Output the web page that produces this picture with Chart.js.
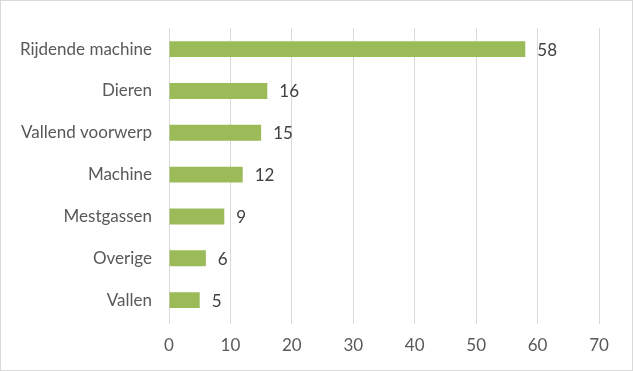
<!DOCTYPE html>
<html>
<head>
<meta charset="utf-8">
<script src="https://cdn.jsdelivr.net/npm/chart.js@4.4.0/dist/chart.umd.min.js"></script>
<style>
  html, body { margin: 0; padding: 0; background: #fff; }
  #wrap {
    position: absolute; left: 0; top: 0;
    width: 633px; height: 371px;
    box-sizing: border-box;
    border: 1px solid #d9d9d9;
  }
  #chart { display: block; }
</style>
</head>
<body>
<div id="wrap"><canvas id="chart" width="631" height="369"></canvas></div>
<script>
// Oorzaken - aantal
const categories = [
    "Rijdende machine",
    "Dieren",
    "Vallend voorwerp",
    "Machine",
    "Mestgassen",
    "Overige",
    "Vallen"
];
const values = [58, 16, 15, 12, 9, 6, 5];
const xTicks = [0, 10, 20, 30, 40, 50, 60, 70];

const FONT = "Lato, 'Open Sans', sans-serif";

// data labels rechts van de balken
const valueLabels = {
    id: "valueLabels",
    afterDatasetsDraw(chart) {
        const ctx = chart.ctx;
        const meta = chart.getDatasetMeta(0);
        ctx.save();
        ctx.font = "17px " + FONT;
        ctx.fillStyle = "#404040";
        ctx.textAlign = "left";
        ctx.textBaseline = "middle";
        meta.data.forEach((bar, i) => {
            ctx.fillText(String(values[i]), bar.x + 12, bar.y + 1);
        });
        ctx.restore();
    }
};

const ctx = document.getElementById("chart").getContext("2d");
new Chart(ctx, {
    type: "bar",
    data: {
        labels: categories,
        datasets: [{
            data: values,
            backgroundColor: "#9bbb59",
            borderWidth: 0,
            barPercentage: 0.38,
            categoryPercentage: 1
        }]
    },
    options: {
        indexAxis: "y",
        responsive: false,
        animation: false,
        layout: { padding: { top: 19, right: 33, left: 0, bottom: 0 } },
        plugins: {
            legend: { display: false },
            tooltip: { enabled: false }
        },
        scales: {
            x: {
                min: 0,
                max: 70,
                afterBuildTicks: (scale) => {
                    scale.ticks = xTicks.map(v => ({ value: v }));
                },
                afterFit: (scale) => { scale.height = 49; },
                grid: {
                    color: "#d9d9d9",
                    lineWidth: 1,
                    drawTicks: true,
                    tickLength: 3
                },
                border: { display: false },
                ticks: {
                    color: "#595959",
                    font: { family: FONT, size: 17 },
                    padding: 11
                }
            },
            y: {
                afterFit: (scale) => { scale.width = 168; },
                grid: { display: false, drawTicks: false },
                border: { display: true, color: "#d9d9d9", width: 1 },
                ticks: {
                    color: "#595959",
                    font: { family: FONT, size: 17 },
                    padding: 17
                }
            }
        }
    },
    plugins: [valueLabels]
});
</script>
</body>
</html>
